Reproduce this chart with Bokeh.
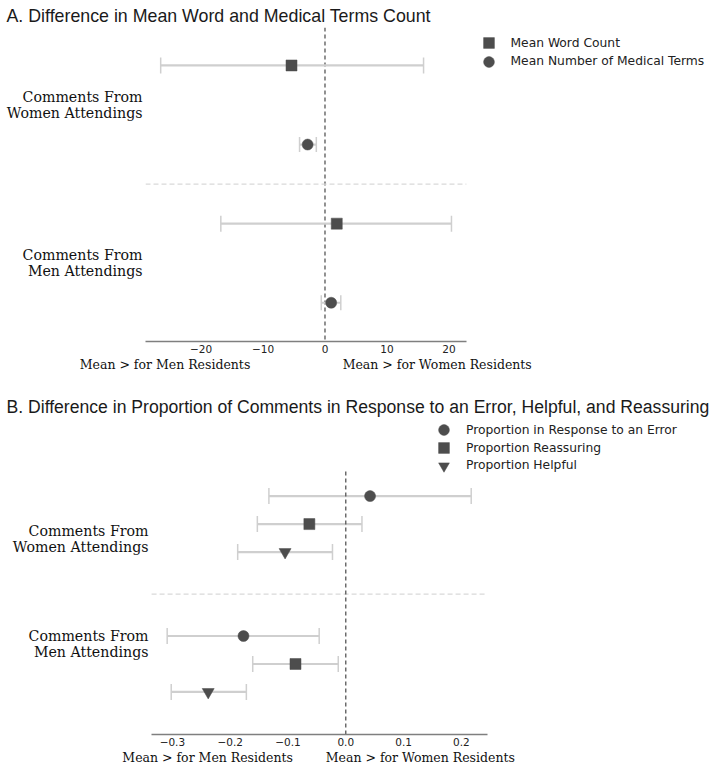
from bokeh.plotting import figure
from bokeh.models import (Range1d, LinearAxis, FixedTicker, Span, Whisker, TeeHead,
                          ColumnDataSource, Legend, LegendItem)
from bokeh.layouts import column
from bokeh.embed import file_html
from bokeh.resources import INLINE

# ---------------- data ----------------
GROUPS = ["Comments From\nWomen Attendings", "Comments From\nMen Attendings"]

# Panel A (women, men)
A_MEASURES = ["Mean Word Count", "Mean Number of Medical Terms"]
A_WORD_EST = [-5.4, 1.9]
A_WORD_LO = [-26.5, -16.8]
A_WORD_HI = [15.9, 20.4]
A_MED_EST = [-2.8, 1.0]
A_MED_LO = [-4.1, -0.6]
A_MED_HI = [-1.4, 2.55]
A_TICKS = [-20, -10, 0, 10, 20]
A_TICK_LABELS = ["\u221220", "\u221210", "0", "10", "20"]

# Panel B (women, men)
B_MEASURES = ["Proportion in Response to an Error", "Proportion Reassuring", "Proportion Helpful"]
B_ERR_EST = [0.042, -0.177]
B_ERR_LO = [-0.133, -0.309]
B_ERR_HI = [0.217, -0.046]
B_REA_EST = [-0.063, -0.087]
B_REA_LO = [-0.153, -0.161]
B_REA_HI = [0.028, -0.013]
B_HLP_EST = [-0.105, -0.238]
B_HLP_LO = [-0.187, -0.302]
B_HLP_HI = [-0.023, -0.172]
B_TICKS = [-0.3, -0.2, -0.1, 0.0, 0.1, 0.2]
B_TICK_LABELS = ["\u22120.3", "\u22120.2", "\u22120.1", "0.0", "0.1", "0.2"]

SIDE_LABELS = ["Mean > for Men Residents", "Mean > for Women Residents"]

# axis extents (data units)
A_AXIS = (-28.95, 22.8)
A_Y = (-0.49, 3.48)
B_AXIS = (-0.336, 0.2445)
B_Y = (-0.504, 1.398)

# ---------------- style ----------------
MARK = "#4d4d4d"
BAR = "#cfcfcf"
SERIF = "DejaVu Serif"
SANS = "DejaVu Sans"


def key(v):
    return int(v) if float(v) == int(v) else v


def safe_set(obj, attr, val, fallback):
    try:
        setattr(obj, attr, val)
    except Exception:
        setattr(obj, attr, fallback)


def base_fig(title, xr, yr, fw, fh, bl, br, bt, bb, toff, tstand, tsize):
    p = figure(title=title, x_range=Range1d(*xr), y_range=Range1d(*yr),
               frame_width=fw, frame_height=fh,
               min_border_left=bl, min_border_right=br, min_border_top=bt, min_border_bottom=bb,
               x_axis_type=None, y_axis_type=None,
               output_backend="svg", toolbar_location=None)
    p.outline_line_color = None
    p.xgrid.visible = False
    p.ygrid.visible = False
    p.title.text_font = "Liberation Sans"
    p.title.text_font_size = tsize
    p.title.text_font_style = "normal"
    p.title.text_color = "#1a1a1a"
    p.title.align = "left"
    p.title.offset = toff
    p.title.standoff = tstand
    return p


def add_axes(p, ticks, tick_labels, bounds, side_pos, ytick_pos, ystand):
    xa = LinearAxis(ticker=FixedTicker(ticks=ticks), bounds=bounds,
                    major_label_overrides={key(t): l for t, l in zip(ticks, tick_labels)})
    xa.axis_line_color = "#7f7f7f"
    xa.axis_line_width = 1.6
    xa.major_tick_line_color = None
    xa.minor_tick_line_color = None
    xa.major_tick_out = 0
    xa.major_tick_in = 0
    xa.minor_tick_out = 0
    xa.major_label_standoff = 3
    xa.major_label_text_font = SANS
    xa.major_label_text_font_size = "10.5px"
    xa.major_label_text_color = "#222222"
    p.add_layout(xa, "below")

    xa2 = LinearAxis(ticker=FixedTicker(ticks=side_pos),
                     major_label_overrides={key(t): l for t, l in zip(side_pos, SIDE_LABELS)})
    xa2.axis_line_color = None
    xa2.major_tick_line_color = None
    xa2.minor_tick_line_color = None
    xa2.major_tick_out = 0
    xa2.major_tick_in = 0
    xa2.minor_tick_out = 0
    xa2.major_label_standoff = 1
    xa2.major_label_text_font = SERIF
    xa2.major_label_text_font_size = "12.5px"
    xa2.major_label_text_color = "#111111"
    p.add_layout(xa2, "below")

    ya = LinearAxis(ticker=FixedTicker(ticks=ytick_pos),
                    major_label_overrides={key(t): l for t, l in zip(ytick_pos, GROUPS)})
    ya.axis_line_color = None
    ya.major_tick_line_color = None
    ya.minor_tick_line_color = None
    ya.major_tick_out = 0
    ya.major_tick_in = 0
    ya.minor_tick_out = 0
    safe_set(ya, "major_label_standoff", ystand, 0)
    ya.major_label_text_font = SERIF
    ya.major_label_text_font_size = "14.2px"
    ya.major_label_text_color = "#111111"
    ya.major_label_text_line_height = 1.0
    ya.major_label_orientation = "horizontal"
    p.add_layout(ya, "left")


def add_series(p, y, est, lo, hi, marker, size, cap):
    src = ColumnDataSource(dict(y=y, est=est, lo=lo, hi=hi))
    w = Whisker(source=src, base="y", lower="lo", upper="hi", dimension="width",
                line_color=BAR, line_width=2.2, level="underlay",
                lower_head=TeeHead(size=cap, line_color=BAR, line_width=1.5),
                upper_head=TeeHead(size=cap, line_color=BAR, line_width=1.5))
    p.add_layout(w)
    r = p.scatter("est", "y", source=src, marker=marker, size=size,
                  fill_color=MARK, line_color=MARK, line_width=0.5)
    return r


def one_legend(p, label, renderer, loc):
    lg = Legend(items=[LegendItem(label=label, renderers=[renderer])], location=loc)
    lg.glyph_width = 27
    lg.glyph_height = 27
    lg.label_height = 14
    lg.padding = 0
    lg.margin = 0
    lg.spacing = 0
    lg.label_standoff = 9
    lg.label_text_font = SANS
    lg.label_text_font_size = "12.3px"
    lg.label_text_color = "#222222"
    lg.background_fill_alpha = 0
    lg.border_line_alpha = 0
    p.add_layout(lg)


def divider(p, y, bounds):
    p.segment(x0=[bounds[0]], y0=[y], x1=[bounds[1]], y1=[y], line_color="#d9d9d9",
              line_width=1.2, line_dash="5 3")


# ---------------- Panel A ----------------
A_GROUP_BASE = [2.5, 0.5]
A_FW = 565
A_SCALE = 6.2  # px per unit
pA = base_fig("A. Difference in Mean Word and Medical Terms Count",
              (A_AXIS[0], A_AXIS[0] + A_FW / A_SCALE), A_Y, A_FW, 314,
              145, 6, 27, 53, -139, 3, "17.8px")
divider(pA, 1.5, A_AXIS)
pA.add_layout(Span(location=0, dimension="height", line_color="#555555",
                   line_width=1.3, line_dash="4 3", level="underlay"))
rA1 = add_series(pA, [g + 0.5 for g in A_GROUP_BASE], A_WORD_EST, A_WORD_LO, A_WORD_HI,
                 "square", 11, 16)
rA2 = add_series(pA, [g - 0.5 for g in A_GROUP_BASE], A_MED_EST, A_MED_LO, A_MED_HI,
                 "circle", 11, 15)
add_axes(pA, A_TICKS, A_TICK_LABELS, A_AXIS, [-25.8, 18.1], A_GROUP_BASE, 3)
one_legend(pA, A_MEASURES[0], rA1, (329.5, 284.8))
one_legend(pA, A_MEASURES[1], rA2, (329.5, 266.5))

# ---------------- Panel B ----------------
B_GROUP_BASE = [1.0, 0.0]
B_FW = 565
B_SCALE = 578.0
B_LEFT = -0.3465
B_TOP = 1.769
pB = base_fig("B. Difference in Proportion of Comments in Response to an Error, Helpful, and Reassuring",
              (B_LEFT, B_LEFT + B_FW / B_SCALE), (B_Y[0], B_TOP), B_FW, 318,
              145, 6, 20, 30, -139, 0, "17.6px")
divider(pB, 0.5, B_AXIS)
pB.segment(x0=[0], y0=[B_Y[0]], x1=[0], y1=[B_Y[1]], line_color="#555555",
           line_width=1.3, line_dash="4 3")
rB1 = add_series(pB, [g + 0.2 for g in B_GROUP_BASE], B_ERR_EST, B_ERR_LO, B_ERR_HI,
                 "circle", 11, 16)
rB2 = add_series(pB, list(B_GROUP_BASE), B_REA_EST, B_REA_LO, B_REA_HI,
                 "square", 11, 16)
rB3 = add_series(pB, [g - 0.2 for g in B_GROUP_BASE], B_HLP_EST, B_HLP_LO, B_HLP_HI,
                 "inverted_triangle", 12, 16)
add_axes(pB, B_TICKS, B_TICK_LABELS, B_AXIS, [-0.239, 0.129], [0.89, 0.14], -3)
one_legend(pB, B_MEASURES[0], rB1, (285, 290.8))
one_legend(pB, B_MEASURES[1], rB2, (285, 272.6))
one_legend(pB, B_MEASURES[2], rB3, (285, 255.3))

layout = column(pA, pB, spacing=0)
open("out.html", "w").write(file_html(layout, INLINE))
